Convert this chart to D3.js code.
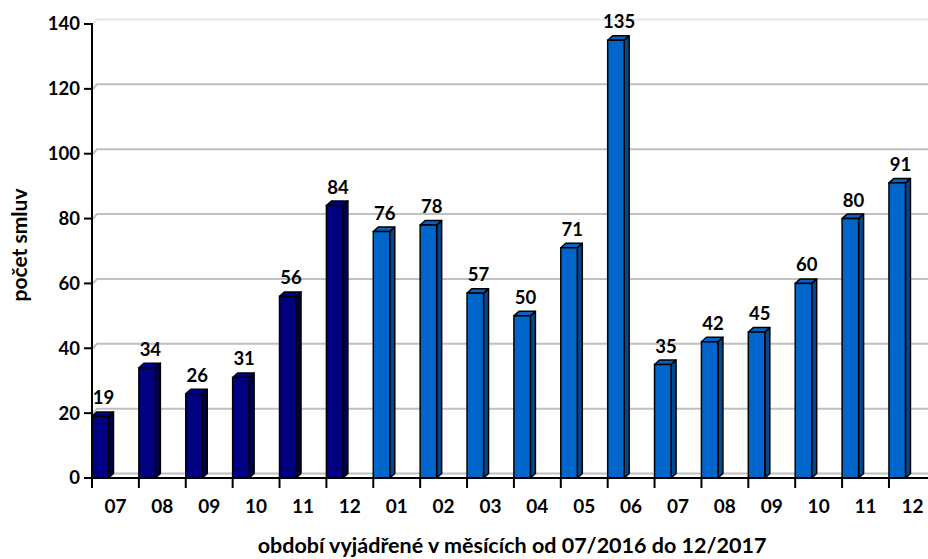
<!DOCTYPE html>
<html>
<head>
<meta charset="utf-8">
<script src="https://cdn.jsdelivr.net/npm/d3@7"></script>
<style>
  body { margin: 0; background: #fff; }
  text { font-family: Lato, "Open Sans", sans-serif; font-weight: bold; fill: #000; }
</style>
</head>
<body>
<script>
// data
var months = ["07", "08", "09", "10", "11", "12", "01", "02", "03", "04", "05", "06", "07", "08", "09", "10", "11", "12"];
var values = [19, 34, 26, 31, 56, 84, 76, 78, 57, 50, 71, 135, 35, 42, 45, 60, 80, 91];
var years = [2016, 2016, 2016, 2016, 2016, 2016, 2017, 2017, 2017, 2017, 2017, 2017, 2017, 2017, 2017, 2017, 2017, 2017];
var yTicks = [0, 20, 40, 60, 80, 100, 120, 140];

// sizes
var width = 928, height = 559;
var x0 = 92, bandW = 46.88;
var barW = 16.5, dx = 5, dy = 4.5;

var svg = d3.select("body").append("svg")
  .attr("width", width)
  .attr("height", height);

var x = d3.scaleBand()
  .domain(d3.range(months.length))
  .range([x0, x0 + bandW * months.length])
  .paddingInner(0).paddingOuter(0);

var y = d3.scaleLinear().domain([0, 140]).range([478, 24]);

// colours per year
var colors = {
  2016: { front: "#000080", side: "#00004a", top: "#00008f" },
  2017: { front: "#0066cc", side: "#004890", top: "#0a62c0" }
};

// gridlines on back wall
var grid = svg.append("g");
yTicks.forEach(function (t) {
  var yy = y(t);
  var col = t === 140 ? "#e6e6e6" : "#c0c0c0";
  grid.append("path")
    .attr("d", "M" + (x0 + 1) + "," + yy + "L" + (x0 + dx) + "," + (yy - dy) + "L" + width + "," + (yy - dy))
    .attr("fill", "none")
    .attr("stroke", col)
    .attr("stroke-width", 2);
});

// bars (3D)
var bars = svg.append("g")
  .selectAll("g")
  .data(values)
  .enter()
  .append("g");

bars.each(function (d, i) {
  var g = d3.select(this);
  var c = colors[years[i]];
  var xl = x(i), xr = xl + barW;
  var yt = y(d), yb = y(0);
  // side
  g.append("path")
    .attr("d", "M" + xr + "," + yb + "L" + (xr + dx) + "," + (yb - dy) + "L" + (xr + dx) + "," + (yt - dy) + "L" + xr + "," + yt + "Z")
    .attr("fill", c.side).attr("stroke", "#000").attr("stroke-width", 1.5).attr("stroke-linejoin", "round");
  // top
  g.append("path")
    .attr("d", "M" + xl + "," + yt + "L" + (xl + dx) + "," + (yt - dy) + "L" + (xr + dx) + "," + (yt - dy) + "L" + xr + "," + yt + "Z")
    .attr("fill", c.top).attr("stroke", "#000").attr("stroke-width", 1.5).attr("stroke-linejoin", "round");
  // front
  g.append("rect")
    .attr("x", xl).attr("y", yt)
    .attr("width", barW).attr("height", yb - yt)
    .attr("fill", c.front).attr("stroke", "#000").attr("stroke-width", 1.5);
});

// value labels
svg.append("g")
  .selectAll("text")
  .data(values)
  .enter()
  .append("text")
  .attr("x", function (d, i) { return x(i) + 11.5; })
  .attr("y", function (d) { return y(d) - 12; })
  .attr("text-anchor", "middle")
  .style("font-size", "18.5px")
  .text(function (d) { return d; });

// y axis
var yAxis = svg.append("g");
yAxis.append("line")
  .attr("x1", x0).attr("x2", x0).attr("y1", y(140) - 1).attr("y2", y(0) + 1)
  .attr("stroke", "#000").attr("stroke-width", 2);
yTicks.forEach(function (t) {
  yAxis.append("line")
    .attr("x1", x0 - 8).attr("x2", x0).attr("y1", y(t)).attr("y2", y(t))
    .attr("stroke", "#000").attr("stroke-width", 2);
  yAxis.append("text")
    .attr("x", x0 - 12).attr("y", y(t)).attr("dy", "0.35em")
    .attr("text-anchor", "end")
    .style("font-size", "18.5px")
    .text(t);
});

// x axis
var xAxis = svg.append("g");
xAxis.append("line")
  .attr("x1", x0 - 1).attr("x2", width).attr("y1", y(0)).attr("y2", y(0))
  .attr("stroke", "#000").attr("stroke-width", 2);
months.forEach(function (m, i) {
  xAxis.append("line")
    .attr("x1", x(i)).attr("x2", x(i)).attr("y1", y(0)).attr("y2", y(0) + 10)
    .attr("stroke", "#000").attr("stroke-width", 2);
  xAxis.append("text")
    .attr("x", x(i) + x.bandwidth() / 2).attr("y", 513)
    .attr("text-anchor", "middle")
    .style("font-size", "19px")
    .text(m);
});

// axis titles
svg.append("text")
  .attr("x", 512).attr("y", 553)
  .attr("text-anchor", "middle")
  .style("font-size", "21.5px")
  .text("období vyjádřené v měsících od 07/2016 do 12/2017");

svg.append("text")
  .attr("transform", "translate(27,245) rotate(-90)")
  .attr("text-anchor", "middle")
  .style("font-size", "21px")
  .text("počet smluv");
</script>
</body>
</html>
